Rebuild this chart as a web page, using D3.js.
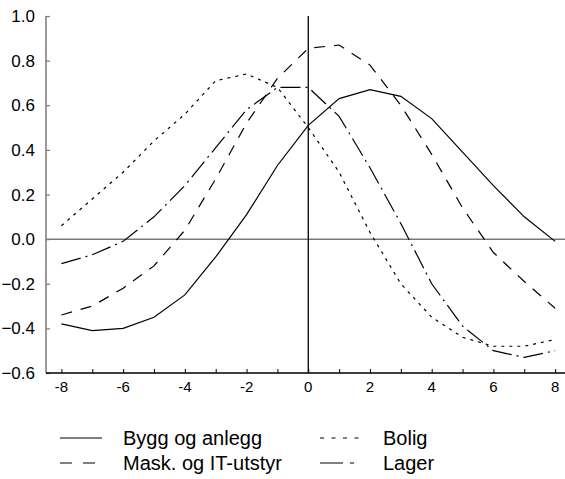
<!DOCTYPE html>
<html><head><meta charset="utf-8">
<script src="https://cdn.jsdelivr.net/npm/d3@7"></script>
<style>body{margin:0;background:#fff}svg{display:block}text{font-family:"Liberation Sans",Arial,sans-serif;fill:#000}</style>
</head><body><svg id="c" width="565" height="479"></svg>
<script>
const xValues = [-8,-7,-6,-5,-4,-3,-2,-1,0,1,2,3,4,5,6,7,8];
const byggOgAnlegg = [-0.38,-0.41,-0.40,-0.35,-0.25,-0.08,0.11,0.33,0.51,0.63,0.67,0.64,0.54,0.39,0.24,0.10,-0.01];
const maskOgIt = [-0.34,-0.30,-0.22,-0.12,0.04,0.27,0.52,0.72,0.855,0.87,0.78,0.60,0.38,0.14,-0.06,-0.19,-0.31];
const bolig = [0.06,0.18,0.30,0.44,0.56,0.71,0.74,0.68,0.50,0.30,0.03,-0.20,-0.35,-0.44,-0.48,-0.48,-0.45];
const lager = [-0.11,-0.07,-0.01,0.10,0.24,0.41,0.58,0.68,0.68,0.55,0.32,0.07,-0.20,-0.39,-0.50,-0.53,-0.50];
const seriesNames = ["Bygg og anlegg","Mask. og IT-utstyr","Bolig","Lager"];
const xTicks = [-8,-7,-6,-5,-4,-3,-2,-1,0,1,2,3,4,5,6,7,8];
const xLabels = [-8,-6,-4,-2,0,2,4,6,8];
const yTicks = [-0.6,-0.4,-0.2,0.0,0.2,0.4,0.6,0.8,1.0];

const dashes = ["none","11,9","3,5","20,5,2,5"];
const legendDashes = ["none","12,11","4,7.5","23,7,4,10"];
const series = [byggOgAnlegg, maskOgIt, bolig, lager];

const svg = d3.select("#c");
const x = d3.scaleLinear().domain([-8.5, 8.32]).range([46, 565]);
const y = d3.scaleLinear().domain([-0.6, 1.0]).range([373, 16]);

// zero lines
svg.append("line").attr("x1", x(-8.5)).attr("x2", 565).attr("y1", y(0)).attr("y2", y(0))
  .attr("stroke", "#7a7a7a").attr("stroke-width", 1.5);
svg.append("line").attr("x1", x(0)).attr("x2", x(0)).attr("y1", y(1.0)).attr("y2", y(-0.6))
  .attr("stroke", "#000").attr("stroke-width", 1.3);

// y axis
const yAxis = d3.axisRight(y).tickValues(yTicks).tickSize(4).tickFormat("");
const gy = svg.append("g").attr("transform", `translate(${x(-8.5)},0)`).call(yAxis);
gy.select(".domain").attr("stroke", "#7a7a7a").attr("stroke-width", 1.5).attr("d", `M0,${y(1.0)}V${y(-0.6)}`);
gy.selectAll(".tick line").attr("stroke", "#7a7a7a").attr("stroke-width", 1.2);
svg.append("g").selectAll("text").data(yTicks).join("text")
  .attr("x", 35).attr("y", d => y(d)).attr("dy", "0.36em").attr("text-anchor", "end")
  .attr("font-size", 17).text(d => d3.format(".1f")(d));

// x axis
const xAxis = d3.axisTop(x).tickValues(xTicks).tickSize(4).tickFormat("");
const gx = svg.append("g").attr("transform", `translate(0,${y(-0.6)})`).call(xAxis);
gx.select(".domain").attr("stroke", "#000").attr("stroke-width", 1.3).attr("d", `M${x(-8.5)},0H565`);
gx.selectAll(".tick line").attr("stroke", "#000").attr("stroke-width", 1);
svg.append("g").selectAll("text").data(xLabels).join("text")
  .attr("x", d => x(d)).attr("y", 392).attr("text-anchor", "middle")
  .attr("font-size", 15).text(d => d);

// lines
const line = d3.line().x((d, i) => x(xValues[i])).y(d => y(d));
series.forEach((s, i) => {
  svg.append("path").datum(s).attr("d", line).attr("fill", "none")
    .attr("stroke", "#000").attr("stroke-width", 1.2)
    .attr("stroke-dasharray", dashes[i]);
});

// legend
const legPos = [[60, 438], [320, 438], [60, 463], [320, 463]];
const legOrder = [0, 2, 1, 3];
legOrder.forEach((si, k) => {
  const [lx, ly] = legPos[k];
  svg.append("line").attr("x1", lx).attr("x2", lx + 42).attr("y1", ly).attr("y2", ly)
    .attr("stroke", "#000").attr("stroke-width", 1.2).attr("stroke-dasharray", legendDashes[si]);
  svg.append("text").attr("x", lx + 63).attr("y", ly + 7).attr("font-size", 20).text(seriesNames[si]);
});
</script></body></html>
